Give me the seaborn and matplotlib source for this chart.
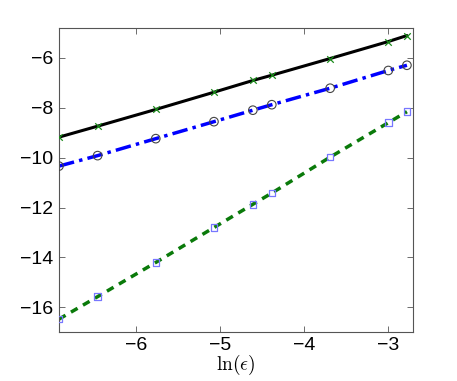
import numpy as np
import pandas as pd
import matplotlib
matplotlib.use("Agg")
import matplotlib.pyplot as plt
import seaborn as sns

# data
ln_eps = [-6.925, -6.464, -5.770, -5.076, -4.612, -4.386, -3.690, -2.996, -2.774]
err_a = [-9.18, -8.74, -8.07, -7.38, -6.91, -6.70, -6.03, -5.35, -5.11]
err_b = [-10.34, -9.92, -9.24, -8.56, -8.10, -7.88, -7.22, -6.51, -6.30]
err_c = [-16.47, -15.57, -14.20, -12.80, -11.87, -11.42, -9.98, -8.60, -8.16]
xticks = [-6, -5, -4, -3]
yticks = [-16, -14, -12, -10, -8, -6]

sns.set_theme(style="white")
plt.rcParams['font.family'] = ['Liberation Sans', 'DejaVu Sans']
plt.rcParams['mathtext.fontset'] = 'cm'

df = pd.DataFrame({"x": ln_eps, "a": err_a, "b": err_b, "c": err_c})

fig = plt.figure(figsize=(4.57, 3.81), dpi=100)
ax = fig.add_axes([0.129, 0.129, 0.775, 0.798])

sns.lineplot(data=df, x="x", y="a", ax=ax, color="black", linewidth=2.2,
             linestyle="-", estimator=None, sort=False)
sns.scatterplot(data=df, x="x", y="a", ax=ax, marker="x", color="#1a8a1a",
                s=22, linewidth=0.9, zorder=3)

sns.lineplot(data=df, x="x", y="b", ax=ax, color="#0000ff", linewidth=2.5,
             linestyle=(0, (4.5, 1.5, 1, 1.5)), estimator=None, sort=False)
sns.scatterplot(data=df, x="x", y="b", ax=ax, marker="o", facecolor="none",
                edgecolor="#444444", s=38, linewidth=0.8, zorder=3)

sns.lineplot(data=df, x="x", y="c", ax=ax, color="#0a7a0a", linewidth=2.5,
             linestyle=(0, (2.2, 1.8)), estimator=None, sort=False)
sns.scatterplot(data=df, x="x", y="c", ax=ax, marker="s", facecolor="none",
                edgecolor="#7777ff", s=22, linewidth=0.9, zorder=3)

ax.set_xlim(-6.925, -2.70)
ax.set_ylim(-16.98, -4.8)
ax.set_xticks(xticks)
ax.set_yticks(yticks)
ax.set_xticklabels([f"\u2212{abs(t)}" for t in xticks])
ax.set_yticklabels([f"\u2212{abs(t)}" for t in yticks])
ax.tick_params(direction="in", length=4, width=0.6, color="#555555",
               labelcolor="black", labelsize=14,
               top=True, right=True, bottom=True, left=True, pad=4)
for s in ax.spines.values():
    s.set_color("#555555")
    s.set_linewidth(0.8)
ax.set_xlabel(r"$\ln(\epsilon)$", fontsize=14, labelpad=-1, color="black")
ax.set_ylabel("")

fig.savefig("out.png", dpi=100)
